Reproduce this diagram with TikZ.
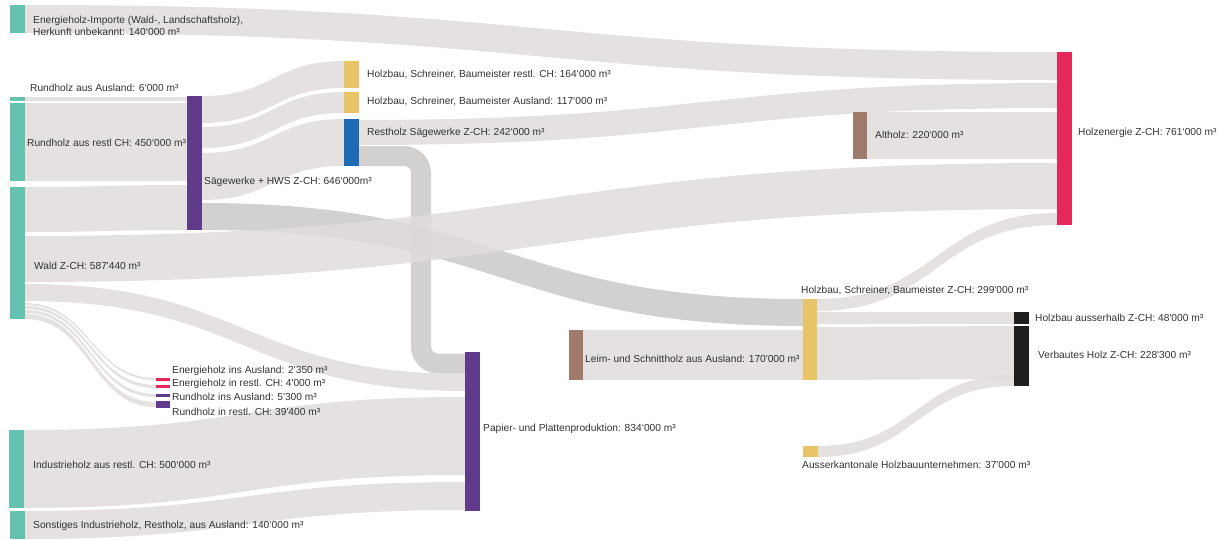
\documentclass[tikz,border=0pt]{standalone}
\usepackage{fontspec}
\setmainfont{Liberation Sans}
\usetikzlibrary{calc}
\definecolor{cTeal}{HTML}{65C2AE}
\definecolor{cPurple}{HTML}{603A8B}
\definecolor{cYellow}{HTML}{E8C468}
\definecolor{cBlue}{HTML}{1C6BB4}
\definecolor{cBrown}{HTML}{A07A6A}
\definecolor{cRed}{HTML}{E5285A}
\definecolor{cBlack}{HTML}{1E1E1E}
\definecolor{cFlow}{HTML}{DFDCDB}
\definecolor{cDark}{HTML}{C7C5C4}
\definecolor{cTxt}{HTML}{333333}
\newcommand\sq{\textquotesingle}
% ribbon: [style] src, src top offset, src bottom offset, dst, dst top offset, dst bottom offset
\newcommand\ribbon[7][lightflow]{%
  \fill[#1] let \p1=(#2.north east), \p2=(#5.north west), \n1={0.5*(\x1+\x2)} in
   (\x1,\y1-#3pt) .. controls (\n1,\y1-#3pt) and (\n1,\y2-#6pt) .. (\x2,\y2-#6pt)
   -- (\x2,\y2-#7pt) .. controls (\n1,\y2-#7pt) and (\n1,\y1-#4pt) .. (\x1,\y1-#4pt) -- cycle;}
\begin{document}
\begin{tikzpicture}[x=1pt,y=-1pt,
  bar/.style={rectangle,inner sep=0pt,outer sep=0pt,draw=none,anchor=north west,minimum width=15pt},
  lightflow/.style={fill=cFlow,fill opacity=0.85},
  darkflow/.style={fill=cDark,fill opacity=0.8},
  darkline/.style={draw=cDark,draw opacity=0.8,line width=20pt,rounded corners=17pt},
  lbl/.style={anchor=west,inner sep=0pt,text=cTxt,font=\fontsize{10.2}{12}\selectfont,align=left}]
\useasboundingbox (0,0) rectangle (1227,539);
% nodes
\node[bar,minimum height=28pt] (ei) at (10,5) {};
\node[bar,minimum height=4pt] (rha) at (10,97) {};
\node[bar,minimum height=78pt] (rhr) at (10,103) {};
\node[bar,minimum height=132pt] (wald) at (10,187) {};
\node[bar,minimum height=78pt] (ind) at (9,430) {};
\node[bar,minimum height=28pt] (son) at (10,511) {};
\node[bar,minimum height=134pt] (saeg) at (187,96) {};
\node[bar,minimum height=27pt] (hbr) at (344,61) {};
\node[bar,minimum height=21pt] (hba) at (344,92) {};
\node[bar,minimum height=47pt] (rest) at (344,119) {};
\node[bar,minimum width=14pt,minimum height=47pt] (alt) at (853,112) {};
\node[bar,minimum height=173pt] (hen) at (1057,52) {};
\node[bar,minimum width=14pt,minimum height=3pt] (eia) at (156,378) {};
\node[bar,minimum width=14pt,minimum height=3pt] (eir) at (156,385) {};
\node[bar,minimum width=14pt,minimum height=3pt] (rhaa) at (156,394) {};
\node[bar,minimum width=14pt,minimum height=7pt] (rhrr) at (156,401) {};
\node[bar,minimum height=159pt] (pap) at (465,352) {};
\node[bar,minimum width=14pt,minimum height=50pt] (leim) at (569,330) {};
\node[bar,minimum width=14pt,minimum height=81pt] (hbz) at (803,299) {};
\node[bar,minimum height=11pt] (ausk) at (803,446) {};
\node[bar,minimum height=12pt] (hbaus) at (1014,312) {};
\node[bar,minimum height=60pt] (verb) at (1014,326) {};
% flows
\ribbon[darkflow]{saeg}{107}{134}{hbz}{0}{27}
\draw[darkline] ($(rest.north east)+(0,37)$) -- ++(62,0) |- ($(pap.north west)+(0,11.5)$);
\ribbon{ei}{0}{28}{hen}{0}{28}
\ribbon{rha}{0}{4}{saeg}{1}{5}
\ribbon{rhr}{0}{78}{saeg}{7}{85}
\ribbon{wald}{0}{45}{saeg}{89}{134}
\ribbon{saeg}{0}{27}{hbr}{0}{27}
\ribbon{saeg}{31}{52}{hba}{0}{21}
\ribbon{saeg}{57}{104}{rest}{0}{47}
\ribbon{rest}{1}{26}{hen}{31}{56}
\ribbon{alt}{0}{47}{hen}{60}{107}
\ribbon{wald}{49}{95}{hen}{111}{157}
\ribbon{wald}{97}{114}{pap}{22}{39}
\ribbon{wald}{116}{118}{eia}{0}{2}
\ribbon{wald}{119}{122}{eir}{0}{3}
\ribbon{wald}{123}{126}{rhaa}{0}{3}
\ribbon{wald}{127}{132}{rhrr}{1}{6}
\ribbon{ind}{0}{78}{pap}{45}{123}
\ribbon{son}{0}{28}{pap}{130}{158}
\ribbon{leim}{0}{50}{hbz}{31}{81}
\ribbon{hbz}{0}{12}{hen}{161}{173}
\ribbon{hbz}{13}{25}{hbaus}{0}{12}
\ribbon{hbz}{28}{81}{verb}{0}{53}
\ribbon{ausk}{0}{11}{verb}{49}{60}
% node bars on top of flows
\foreach \n/\c in {ei/cTeal,rha/cTeal,rhr/cTeal,wald/cTeal,ind/cTeal,son/cTeal,saeg/cPurple,hbr/cYellow,hba/cYellow,rest/cBlue,alt/cBrown,hen/cRed,eia/cRed,eir/cRed,rhaa/cPurple,rhrr/cPurple,pap/cPurple,leim/cBrown,hbz/cYellow,ausk/cYellow,hbaus/cBlack,verb/cBlack}
  \fill[\c] (\n.north west) rectangle (\n.south east);
% labels
\node[lbl] (l-ei) at (33,25.5) {Energieholz-Importe (Wald-, Landschaftsholz),\\Herkunft unbekannt: 140‘000 m³};
\node[lbl] (l-rha) at (30,88) {Rundholz aus Ausland: 6‘000 m³};
\node[lbl] (l-rhr) at (27,143) {Rundholz aus restl CH: 450‘000 m³};
\node[lbl] (l-wald) at (34,266) {Wald Z-CH: 587\sq440 m³};
\node[lbl] (l-saeg) at (204,182) {Sägewerke + HWS Z-CH: 646‘000m³};
\node[lbl] (l-hbr) at (367,74) {Holzbau, Schreiner, Baumeister restl. CH: 164‘000 m³};
\node[lbl] (l-hba) at (367,101.5) {Holzbau, Schreiner, Baumeister Ausland: 117‘000 m³};
\node[lbl] (l-rest) at (367,133) {Restholz Sägewerke Z-CH: 242‘000 m³};
\node[lbl] (l-alt) at (875,135) {Altholz: 220‘000 m³};
\node[lbl] (l-hen) at (1078,133) {Holzenergie Z-CH: 761‘000 m³};
\node[lbl] (l-eia) at (172,370.5) {Energieholz ins Ausland: 2\sq350 m³};
\node[lbl] (l-eir) at (172,383.5) {Energieholz in restl. CH: 4\sq000 m³};
\node[lbl] (l-rhaa) at (172,397) {Rundholz ins Ausland: 5\sq300 m³};
\node[lbl] (l-rhrr) at (172,411.5) {Rundholz in restl. CH: 39\sq400 m³};
\node[lbl] (l-ind) at (33,465) {Industrieholz aus restl. CH: 500‘000 m³};
\node[lbl] (l-son) at (33,526) {Sonstiges Industrieholz, Restholz, aus Ausland: 140‘000 m³};
\node[lbl] (l-pap) at (483,428.5) {Papier- und Plattenproduktion: 834‘000 m³};
\node[lbl] (l-leim) at (585,359) {Leim- und Schnittholz aus Ausland: 170\sq000 m³};
\node[lbl] (l-hbz) at (801,290.5) {Holzbau, Schreiner, Baumeister Z-CH: 299\sq000 m³};
\node[lbl] (l-ausk) at (802,465) {Ausserkantonale Holzbauunternehmen: 37\sq000 m³};
\node[lbl] (l-hbaus) at (1035,318) {Holzbau ausserhalb Z-CH: 48\sq000 m³};
\node[lbl] (l-verb) at (1038,355) {Verbautes Holz Z-CH: 228\sq300 m³};
\end{tikzpicture}
\end{document}
